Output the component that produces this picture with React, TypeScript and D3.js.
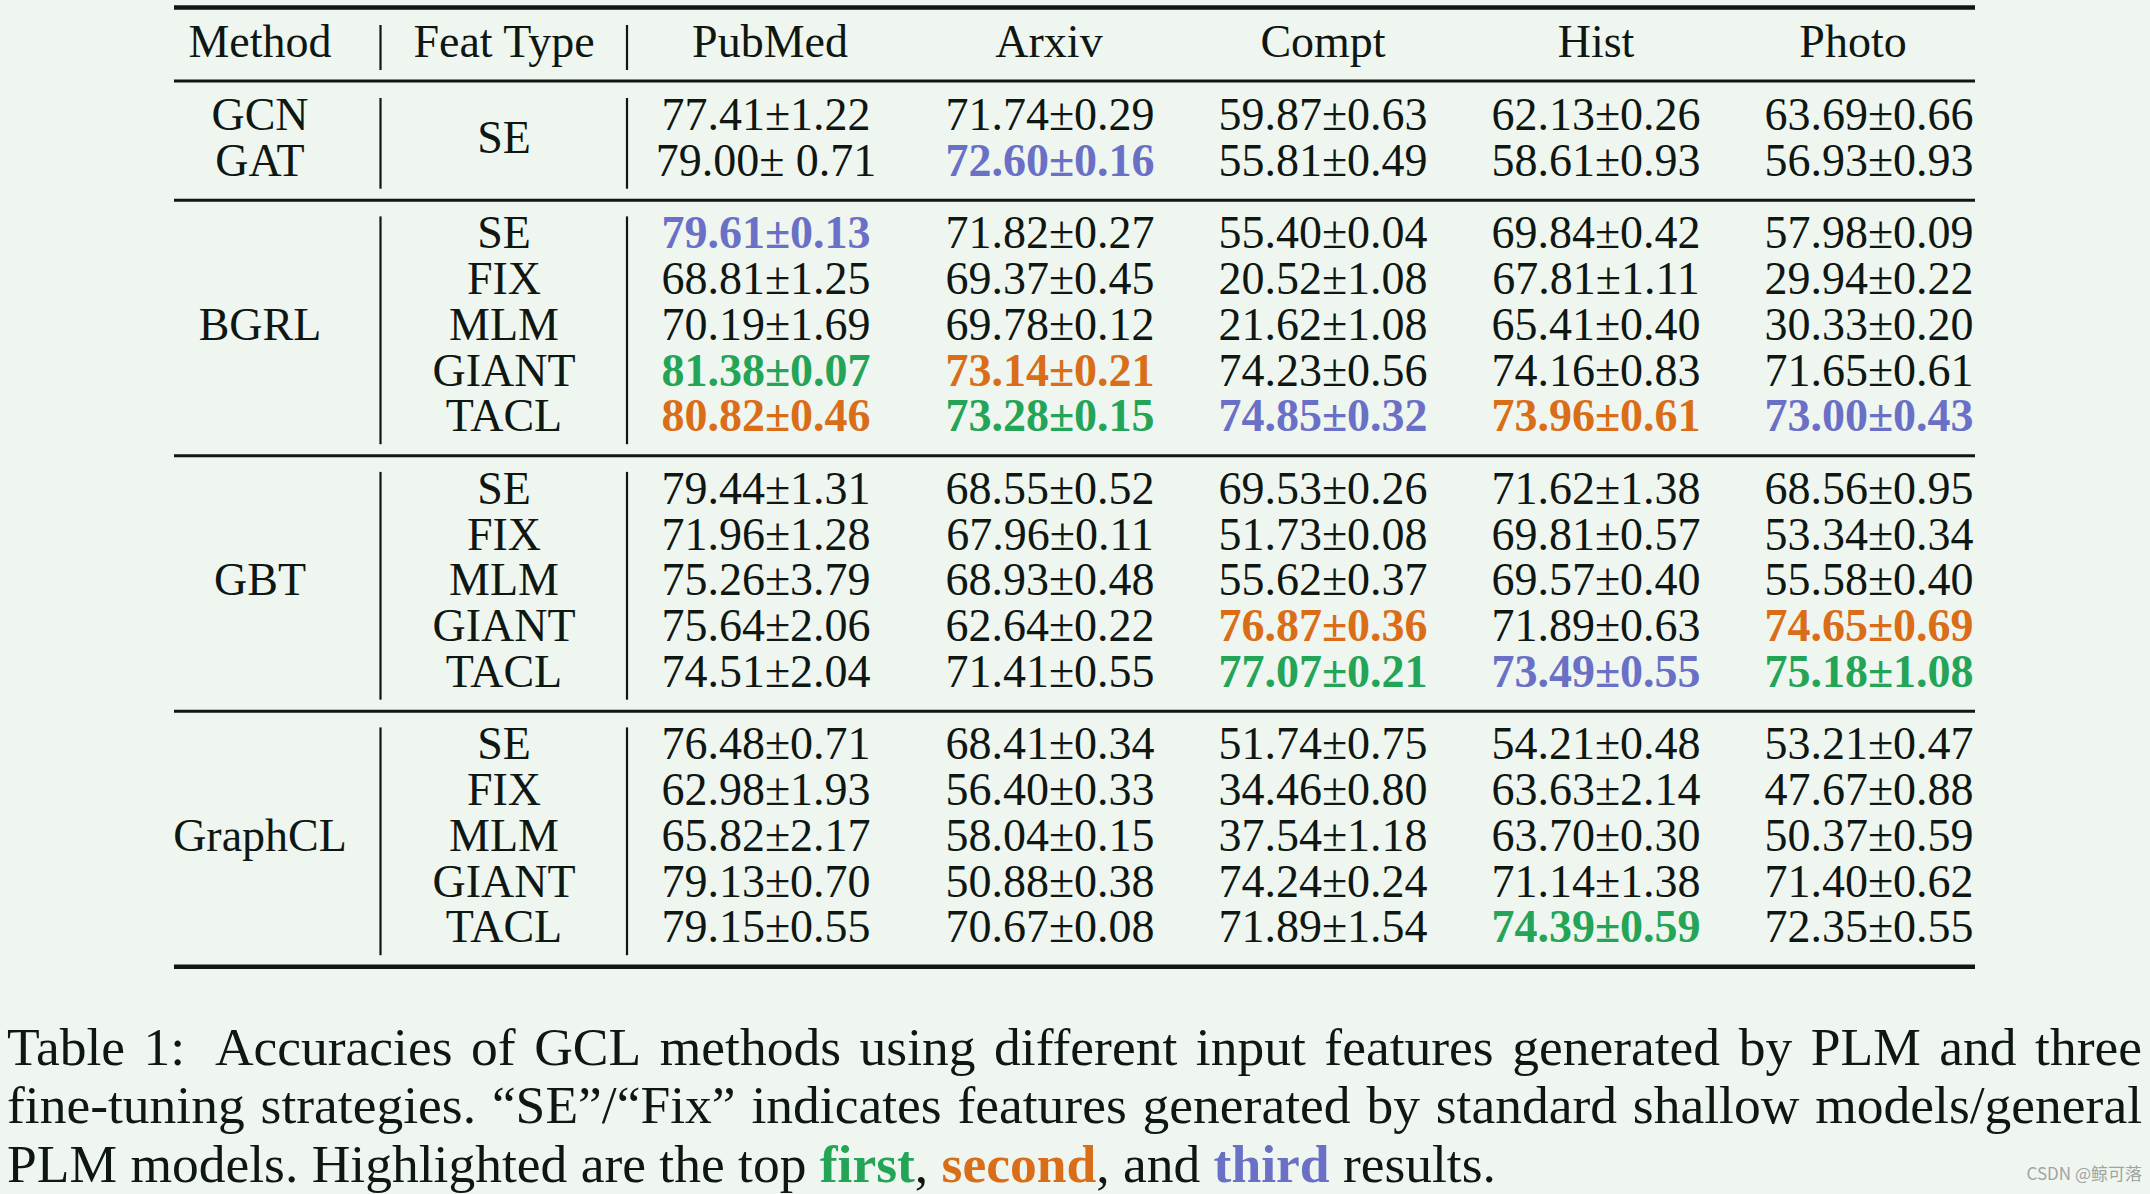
import React, { useEffect, useRef } from "react";
import * as d3 from "d3";

// ---------- data ----------
const datasets = ["PubMed", "Arxiv", "Compt", "Hist", "Photo"];
const headerMethod = "Method";
const headerFeat = "Feat Type";

const groupMethods = [["GCN", "GAT"], ["BGRL"], ["GBT"], ["GraphCL"]];
const groupFeats = [
  ["SE"],
  ["SE", "FIX", "MLM", "GIANT", "TACL"],
  ["SE", "FIX", "MLM", "GIANT", "TACL"],
  ["SE", "FIX", "MLM", "GIANT", "TACL"],
];
const groupRowCounts = [2, 5, 5, 5];

const pubmed = [
  "77.41±1.22", "79.00± 0.71",
  "79.61±0.13", "68.81±1.25", "70.19±1.69", "81.38±0.07", "80.82±0.46",
  "79.44±1.31", "71.96±1.28", "75.26±3.79", "75.64±2.06", "74.51±2.04",
  "76.48±0.71", "62.98±1.93", "65.82±2.17", "79.13±0.70", "79.15±0.55",
];
const arxiv = [
  "71.74±0.29", "72.60±0.16",
  "71.82±0.27", "69.37±0.45", "69.78±0.12", "73.14±0.21", "73.28±0.15",
  "68.55±0.52", "67.96±0.11", "68.93±0.48", "62.64±0.22", "71.41±0.55",
  "68.41±0.34", "56.40±0.33", "58.04±0.15", "50.88±0.38", "70.67±0.08",
];
const compt = [
  "59.87±0.63", "55.81±0.49",
  "55.40±0.04", "20.52±1.08", "21.62±1.08", "74.23±0.56", "74.85±0.32",
  "69.53±0.26", "51.73±0.08", "55.62±0.37", "76.87±0.36", "77.07±0.21",
  "51.74±0.75", "34.46±0.80", "37.54±1.18", "74.24±0.24", "71.89±1.54",
];
const hist = [
  "62.13±0.26", "58.61±0.93",
  "69.84±0.42", "67.81±1.11", "65.41±0.40", "74.16±0.83", "73.96±0.61",
  "71.62±1.38", "69.81±0.57", "69.57±0.40", "71.89±0.63", "73.49±0.55",
  "54.21±0.48", "63.63±2.14", "63.70±0.30", "71.14±1.38", "74.39±0.59",
];
const photo = [
  "63.69±0.66", "56.93±0.93",
  "57.98±0.09", "29.94±0.22", "30.33±0.20", "71.65±0.61", "73.00±0.43",
  "68.56±0.95", "53.34±0.34", "55.58±0.40", "74.65±0.69", "75.18±1.08",
  "53.21±0.47", "47.67±0.88", "50.37±0.59", "71.40±0.62", "72.35±0.55",
];
// rank highlight: 0 none, 1 first, 2 second, 3 third
const pubmedRank = [0, 0, 3, 0, 0, 1, 2, 0, 0, 0, 0, 0, 0, 0, 0, 0, 0];
const arxivRank = [0, 3, 0, 0, 0, 2, 1, 0, 0, 0, 0, 0, 0, 0, 0, 0, 0];
const comptRank = [0, 0, 0, 0, 0, 0, 3, 0, 0, 0, 2, 1, 0, 0, 0, 0, 0];
const histRank = [0, 0, 0, 0, 0, 0, 2, 0, 0, 0, 0, 3, 0, 0, 0, 0, 1];
const photoRank = [0, 0, 0, 0, 0, 0, 3, 0, 0, 0, 2, 1, 0, 0, 0, 0, 0];

const columns = [pubmed, arxiv, compt, hist, photo];
const ranks = [pubmedRank, arxivRank, comptRank, histRank, photoRank];

const captionLine1 = ["Table", "1:", "Accuracies", "of", "GCL", "methods", "using", "different", "input", "features", "generated", "by", "PLM", "and", "three"];
const captionLine2 = ["fine-tuning", "strategies.", "“SE”/“Fix”", "indicates", "features", "generated", "by", "standard", "shallow", "models/general"];
const captionLine3 = [
  { t: "PLM models. Highlighted are the top ", r: 0 },
  { t: "first", r: 1 },
  { t: ", ", r: 0 },
  { t: "second", r: 2 },
  { t: ", and ", r: 0 },
  { t: "third", r: 3 },
  { t: " results.", r: 0 },
];
const watermark = "CSDN @鲸可落";

// ---------- style ----------
const W = 2150;
const H = 1194;
const BG = "#eff6f0";
const INK = "#0f1712";
const RANK_COLORS = [INK, "#23a456", "#da6d17", "#6a70c6"];
const FONT = "'Liberation Serif', 'Times New Roman', Times, serif";
const TFS = 46;
const CFS = 53.5;

export default function App() {
  const capRef = useRef<SVGGElement | null>(null);

  const xData = d3.scaleOrdinal<string, number>().domain(datasets).range([766, 1050, 1323, 1596, 1869]);
  const xHead = d3.scaleOrdinal<string, number>().domain(datasets).range([770, 1049, 1323, 1596, 1853]);
  const xLeft = d3.scaleOrdinal<string, number>().domain(["method", "feat", "sep1", "sep2", "left", "right"]).range([260, 504, 380.5, 627, 174, 1975]);

  const headerY = 57;
  const rowY = d3.scaleLinear().domain([0, 1]).range([130, 175.7]);
  const groupGap = 27;

  const rowBase: number[] = [];
  const groupStart: number[] = [];
  let idx = 0;
  groupRowCounts.forEach((n, g) => {
    groupStart.push(idx);
    for (let i = 0; i < n; i++) {
      rowBase.push(rowY(idx) + g * groupGap);
      idx++;
    }
  });

  useEffect(() => {
    const g = d3.select(capRef.current);
    g.selectAll("*").remove();
    const left = 7;
    const right = 2142;
    const justify = (words: string[], y: number, extraAfter: number[]) => {
      const widths = words.map((w) => {
        const t = g.append("text").attr("font-size", CFS).attr("font-family", FONT).text(w);
        const wd = (t.node() as SVGTextElement).getComputedTextLength();
        t.remove();
        return wd;
      });
      const total = d3.sum(widths);
      const weights = words.slice(0, -1).map((_, i) => (extraAfter.includes(i) ? 1.6 : 1));
      const unit = (right - left - total) / d3.sum(weights);
      let x = left;
      words.forEach((w, i) => {
        g.append("text")
          .attr("x", x)
          .attr("y", y)
          .attr("font-size", CFS)
          .attr("font-family", FONT)
          .attr("fill", INK)
          .text(w);
        x += widths[i] + (i < weights.length ? weights[i] * unit : 0);
      });
    };
    justify(captionLine1, 1065, [1]);
    justify(captionLine2, 1123, []);
    const t3 = g
      .append("text")
      .attr("x", left)
      .attr("y", 1182)
      .attr("font-size", CFS)
      .attr("font-family", FONT)
      .attr("fill", INK)
      .style("white-space", "pre");
    captionLine3.forEach((p) => {
      t3.append("tspan")
        .attr("fill", RANK_COLORS[p.r])
        .attr("font-weight", p.r ? "bold" : "normal")
        .text(p.t);
    });
  }, []);

  const ruleThick = (y: number, w: number, key: string) => (
    <line key={key} x1={xLeft("left")} x2={xLeft("right")} y1={y} y2={y} stroke={INK} strokeWidth={w} />
  );

  const vsep = (y1: number, y2: number, key: string) => (
    <g key={key}>
      <line x1={xLeft("sep1")} x2={xLeft("sep1")} y1={y1} y2={y2} stroke={INK} strokeWidth={2.2} />
      <line x1={xLeft("sep2")} x2={xLeft("sep2")} y1={y1} y2={y2} stroke={INK} strokeWidth={2.2} />
    </g>
  );

  const elems: React.ReactNode[] = [];
  elems.push(ruleThick(7.5, 4.5, "top"));
  elems.push(ruleThick(headerY + 24, 3, "hdr"));
  groupRowCounts.forEach((n, g) => {
    const last = rowBase[groupStart[g] + n - 1];
    const isLast = g === groupRowCounts.length - 1;
    elems.push(ruleThick(last + 24.5, isLast ? 4.5 : 3, "gr" + g));
  });
  elems.push(vsep(headerY - 32, headerY + 13, "hs"));
  elems.push(
    <text key="hm" x={xLeft("method")} y={headerY} textAnchor="middle">{headerMethod}</text>,
    <text key="hf" x={xLeft("feat")} y={headerY} textAnchor="middle">{headerFeat}</text>
  );
  datasets.forEach((d) => {
    elems.push(<text key={"h" + d} x={xHead(d)} y={headerY} textAnchor="middle">{d}</text>);
  });

  groupRowCounts.forEach((n, g) => {
    const s = groupStart[g];
    const first = rowBase[s];
    const last = rowBase[s + n - 1];
    elems.push(vsep(first - 32, last + 13, "vs" + g));
    const meths = groupMethods[g];
    if (meths.length === n) {
      meths.forEach((m, i) =>
        elems.push(<text key={`m${g}${i}`} x={xLeft("method")} y={rowBase[s + i]} textAnchor="middle">{m}</text>)
      );
    } else {
      elems.push(<text key={`m${g}`} x={xLeft("method")} y={(first + last) / 2} textAnchor="middle">{meths[0]}</text>);
    }
    const feats = groupFeats[g];
    if (feats.length === n) {
      feats.forEach((f, i) =>
        elems.push(<text key={`f${g}${i}`} x={xLeft("feat")} y={rowBase[s + i]} textAnchor="middle">{f}</text>)
      );
    } else {
      elems.push(<text key={`f${g}`} x={xLeft("feat")} y={(first + last) / 2} textAnchor="middle">{feats[0]}</text>);
    }
  });

  columns.forEach((col, c) => {
    col.forEach((v, r) => {
      const rk = ranks[c][r];
      elems.push(
        <text
          key={`v${c}-${r}`}
          x={xData(datasets[c])}
          y={rowBase[r]}
          textAnchor="middle"
          fill={RANK_COLORS[rk]}
          fontWeight={rk ? "bold" : "normal"}
          style={{ whiteSpace: "pre" }}
        >
          {v}
        </text>
      );
    });
  });

  return (
    <svg
      width={W}
      height={H}
      viewBox={`0 0 ${W} ${H}`}
      style={{ position: "absolute", left: 0, top: 0, display: "block" }}
      fontFamily={FONT}
      fontSize={TFS}
      fill={INK}
    >
      <rect x={0} y={0} width={W} height={H} fill={BG} />
      {elems}
      <g ref={capRef} />
      <text x={2142} y={1180} textAnchor="end" fontSize={17} fill="#a0a4a2" fontFamily="'Noto Sans CJK SC', 'DejaVu Sans', sans-serif">
        {watermark}
      </text>
    </svg>
  );
}
